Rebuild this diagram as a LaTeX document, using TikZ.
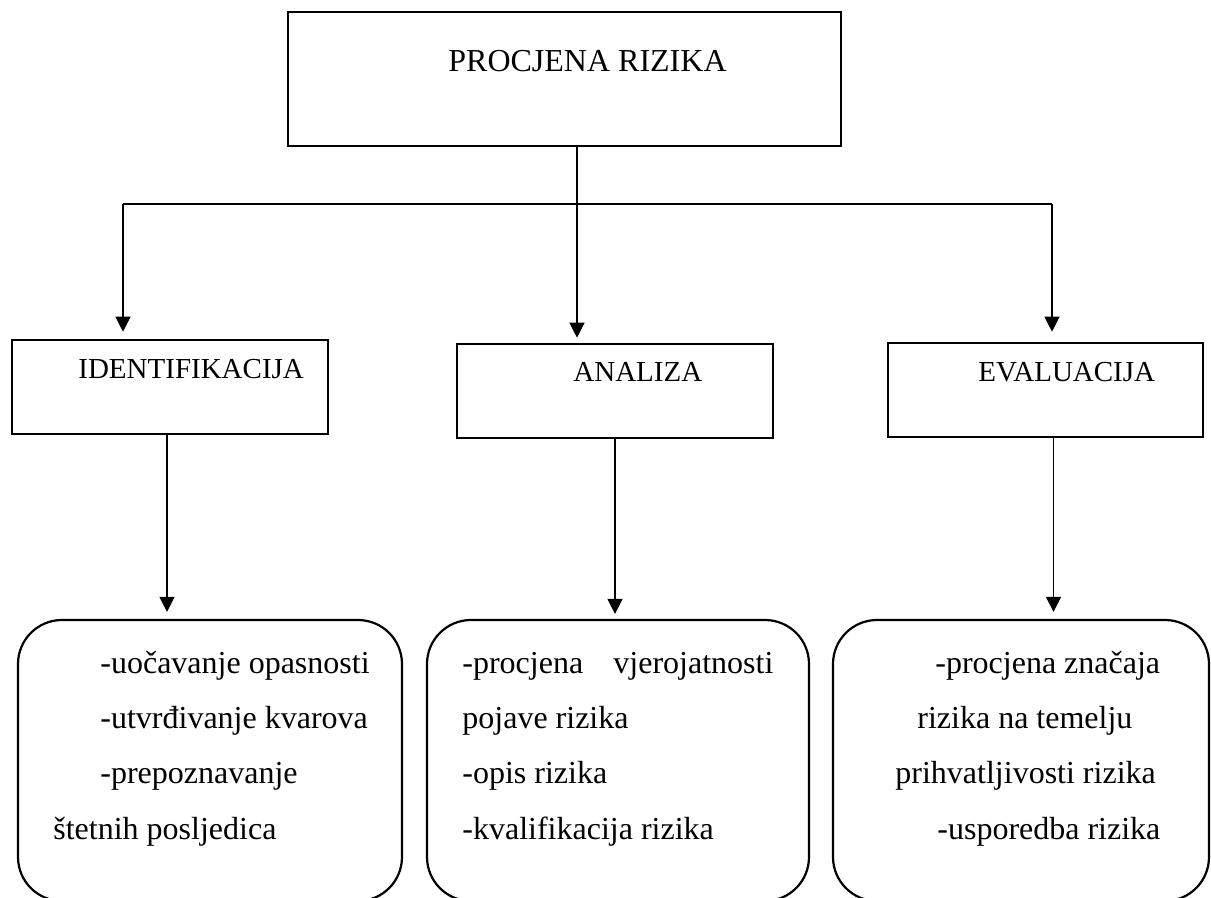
\documentclass[tikz,border=0pt]{standalone}
\usepackage{fontspec}
\setmainfont{Liberation Serif}
\usetikzlibrary{arrows.meta}
\begin{document}
\begin{tikzpicture}[x=0.5pt,y=-0.5pt]
			\tikzstyle{box}=[draw,line width=1.3pt,inner sep=0pt]
			\tikzstyle{rbox}=[draw,line width=1.1pt,rounded corners=22pt,inner sep=0pt,minimum height=140.5pt]
			\tikzstyle{conn}=[line width=0.6pt]
			\tikzstyle{arr}=[conn,-{Triangle[width=7.5pt,length=7.5pt]}]
			\tikzstyle{head}=[anchor=base west,inner sep=0pt,font=\fontsize{14.5}{17}\selectfont]
			\tikzstyle{txt}=[anchor=base west,inner sep=0pt,font=\fontsize{16}{19}\selectfont]
			\useasboundingbox (0,0) rectangle (1211,898);

			\node (top) at (564.5,79) [box,minimum width=276.5pt,minimum height=67pt] {};
			\node (ident) at (170,387) [box,minimum width=158pt,minimum height=47pt] {};
			\node (analiza) at (615,391) [box,minimum width=158pt,minimum height=47pt] {};
			\node (eval) at (1045.5,390) [box,minimum width=157.5pt,minimum height=47pt] {};

			\node (toptxt) at (448,72) [txt] {PROCJENA RIZIKA};
			\node (identtxt) at (78,379) [head] {IDENTIFIKACIJA};
			\node (analizatxt) at (573,382) [head] {ANALIZA};
			\node (evaltxt) at (978,382) [head] {EVALUACIJA};

			\node (lbox) at (210,760.5) [rbox,minimum width=192pt] {};
			\node (mbox) at (618,760.5) [rbox,minimum width=191pt] {};
			\node (rrbox) at (1021,760.5) [rbox,minimum width=188pt] {};

			\coordinate (split) at (577,204);
			\coordinate (bl) at (123,204);
			\coordinate (br) at (1052,204);
			\draw[conn] (top.south -| split) -- (split);
			\draw[conn] (bl) -- (br);
			\draw[arr,shorten >=3.5pt] (bl) -- (bl |- ident.north);
			\draw[arr,shorten >=2.5pt] (split) -- (split |- analiza.north);
			\draw[arr,shorten >=5pt] (br) -- (br |- eval.north);

			\draw[arr,shorten >=3.5pt] ([xshift=-1.5pt]ident.south) -- ([xshift=-1.5pt]ident.south |- lbox.north);
			\draw[arr,shorten >=2.5pt] (analiza.south) -- (analiza.south |- mbox.north);
			\draw[arr,shorten >=3.5pt] ([xshift=4pt]eval.south) -- ([xshift=4pt]eval.south |- rrbox.north);

			\node (l1) at (100,674) [txt] {-uočavanje opasnosti};
			\node (l2) at (100,728) [txt] {-utvrđivanje kvarova};
			\node (l3) at (100,783) [txt] {-prepoznavanje};
			\node (l4) at (53,839) [txt] {štetnih posljedica};

			\node (m1) at (462,674) [txt] {\makebox[155.5pt][s]{-procjena vjerojatnosti}};
			\node (m2) at (462,728) [txt] {pojave rizika};
			\node (m3) at (462,783) [txt] {-opis rizika};
			\node (m4) at (462,839) [txt] {-kvalifikacija rizika};

			\node (r1) at (935,674) [txt] {-procjena značaja};
			\node (r2) at (917,728) [txt] {rizika na temelju};
			\node (r3) at (895,783) [txt] {prihvatljivosti rizika};
			\node (r4) at (937,839) [txt] {-usporedba rizika};
		\end{tikzpicture}
\end{document}
